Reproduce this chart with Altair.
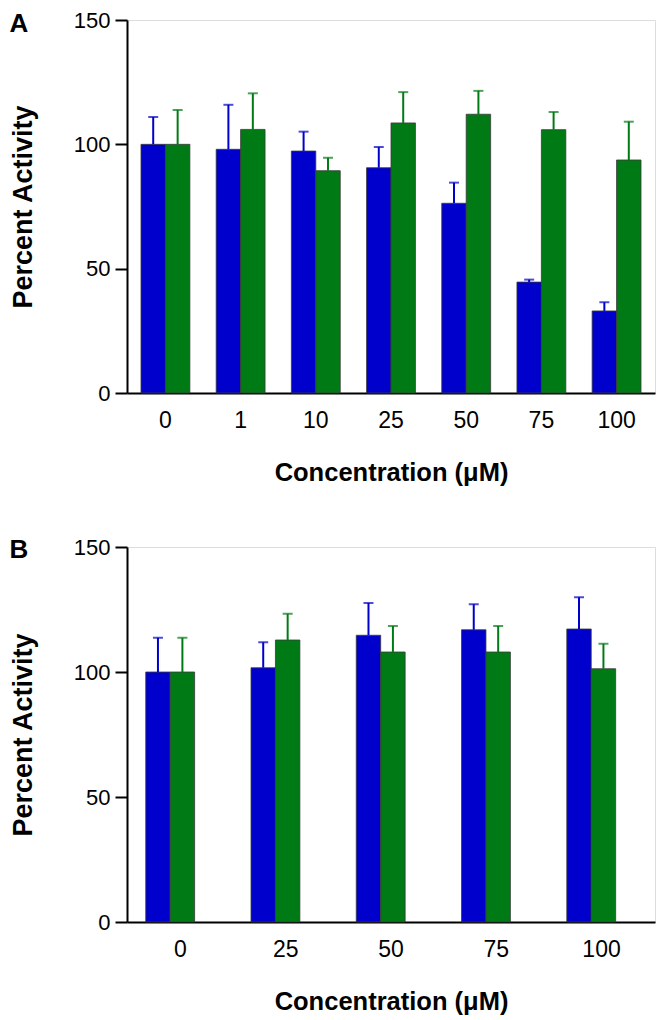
import altair as alt
import pandas as pd

# ---- data ----
series = ["Treatment 1", "Treatment 2"]
bar_colors = ["#0000CC", "#007A14"]
err_colors = ["#0000DD", "#0A8A1E"]

conc_a = ["0", "1", "10", "25", "50", "75", "100"]
a_blue = [100, 98.0, 97.3, 90.6, 76.3, 44.6, 33.0]
a_blue_upper = [111.0, 115.9, 105.1, 98.9, 84.6, 45.6, 36.5]
a_green = [100, 106.0, 89.4, 108.6, 112.1, 105.9, 93.7]
a_green_upper = [113.8, 120.5, 94.6, 121.0, 121.5, 113.0, 109.1]

conc_b = ["0", "25", "50", "75", "100"]
b_blue = [100, 101.7, 114.7, 116.9, 117.2]
b_blue_upper = [113.7, 111.9, 127.6, 127.1, 129.9]
b_green = [100, 112.8, 108.0, 108.0, 101.3]
b_green_upper = [113.7, 123.3, 118.4, 118.4, 111.3]

y_ticks = [0, 50, 100, 150]

FONT = "Liberation Sans"
W = 528


def make_df(conc, blue, blue_up, green, green_up):
    rows = []
    for c, v, u in zip(conc, blue, blue_up):
        rows.append({"conc": c, "series": series[0], "value": v, "upper": u})
    for c, v, u in zip(conc, green, green_up):
        rows.append({"conc": c, "series": series[1], "value": v, "upper": u})
    return pd.DataFrame(rows)


def panel(conc, blue, blue_up, green, green_up, label, pi, po, h, label_y):
    df = make_df(conc, blue, blue_up, green, green_up)
    x = alt.X(
        "conc:N",
        sort=conc,
        scale=alt.Scale(paddingInner=pi, paddingOuter=po),
        axis=alt.Axis(
            title="Concentration (\u03bcM)",
            labelAngle=0,
            labelFont=FONT,
            labelFontSize=23,
            labelColor="black",
            labelPadding=16,
            ticks=False,
            tickSize=0,
            domainColor="black",
            domainWidth=2,
            titleFont=FONT,
            titleFontSize=25.5,
            titleFontWeight="bold",
            titleColor="black",
            titleBaseline="alphabetic",
            titleY=87,
        ),
    )
    xo = alt.XOffset("series:N", sort=series, scale=alt.Scale(paddingInner=0, paddingOuter=0))
    y = alt.Y(
        "value:Q",
        scale=alt.Scale(domain=[0, 150], nice=False),
        axis=alt.Axis(
            title="Percent Activity",
            values=y_ticks,
            grid=False,
            labelFont=FONT,
            labelFontSize=22,
            labelColor="black",
            labelPadding=5,
            tickSize=12,
            tickWidth=2,
            tickColor="black",
            domainColor="black",
            domainWidth=2,
            titleFont=FONT,
            titleFontSize=27,
            titleFontWeight="bold",
            titleColor="black",
            titleBaseline="middle",
            titleAngle=270,
            titleX=-104,
            titleY=h / 2,
            titleAlign="center",
        ),
    )
    color = alt.Color("series:N", scale=alt.Scale(domain=series, range=bar_colors), legend=None)
    ecolor = alt.Color("series:N", scale=alt.Scale(domain=series, range=err_colors), legend=None)

    base = alt.Chart(df)
    bars = base.mark_bar(stroke="#3a3a3a", strokeWidth=0.8).encode(x=x, xOffset=xo, y=y, color=color)
    rules = base.mark_rule(strokeWidth=2).encode(
        x=x, xOffset=xo, y="value:Q", y2="upper:Q", color=ecolor
    )
    caps = base.mark_tick(thickness=2, size=10).encode(
        x=x, xOffset=xo, y="upper:Q", color=ecolor
    )
    lab = alt.Chart(pd.DataFrame({"t": [label]})).mark_text(
        font=FONT, fontSize=26, fontWeight="bold", color="black", align="center", baseline="middle"
    ).encode(text="t:N", x=alt.value(-108), y=alt.value(label_y))
    return alt.layer(bars, rules, caps, lab).properties(width=W, height=h)


pa = panel(conc_a, a_blue, a_blue_upper, a_green, a_green_upper, "A", 0.35, 0.186, 373, 3.5)
pb = panel(conc_b, b_blue, b_blue_upper, b_green, b_green_upper, "B", 0.34, 0.178, 375, 3.0)

chart = (
    alt.vconcat(pa, pb, spacing=49)
    .resolve_scale(x="independent", color="independent")
    .properties(padding={"left": 0, "top": 0, "right": 0, "bottom": 0})
    .configure_view(stroke=None)
    .configure(background="white")
)

chart.save("out.html", embed_options={"renderer": "svg", "actions": False})
